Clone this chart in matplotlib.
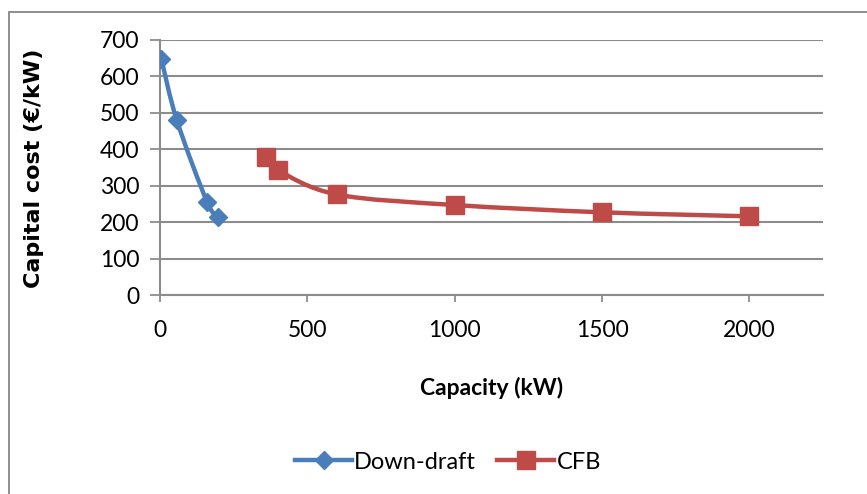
import numpy as np
import matplotlib
matplotlib.use("Agg")
import matplotlib.pyplot as plt
from matplotlib.path import Path
from matplotlib.patches import PathPatch, Rectangle
from matplotlib.lines import Line2D

plt.rcParams['font.family'] = ['Lato', 'DejaVu Sans']

# Data
dd_x = [5, 57, 160, 198]
dd_y = [647, 480, 255, 215]
cfb_x = [360, 400, 600, 1000, 1500, 2000]
cfb_y = [380, 343, 276, 247, 227, 216]
x_ticks = [0, 500, 1000, 1500, 2000]
y_ticks = [0, 100, 200, 300, 400, 500, 600, 700]
series_names = ["Down-draft", "CFB"]

BLUE = "#4A7EBB"
RED = "#BE4B48"
GRID = "#8C8C8C"

L, R, T, B = 160, 823, 40, 295
W, H = 867, 494


def smooth_path(xs, ys, t=1/6):
    pts = np.column_stack([xs, ys]).astype(float)
    n = len(pts)
    verts = [pts[0]]
    codes = [Path.MOVETO]
    for i in range(n - 1):
        p0 = pts[i - 1] if i > 0 else pts[i]
        p1 = pts[i]
        p2 = pts[i + 1]
        p3 = pts[i + 2] if i + 2 < n else pts[i + 1]
        c1 = p1 + (p2 - p0) * t
        c2 = p2 - (p3 - p1) * t
        verts += [c1, c2, p2]
        codes += [Path.CURVE4] * 3
    return Path(verts, codes)


fig = plt.figure(figsize=(W / 100, H / 100), dpi=100)
fig.patches.append(Rectangle((9 / W, -0.1), 1.2, 1 - 12 / H + 0.1, transform=fig.transFigure,
                             fill=False, edgecolor="#868686", lw=1.3))
ax = fig.add_axes([L / W, 1 - B / H, (R - L) / W, (B - T) / H])
ax.set_xlim(0, 2250)
ax.set_ylim(0, 700)

for c, xs, ys in [(BLUE, dd_x, dd_y), (RED, cfb_x, cfb_y)]:
    path = smooth_path(xs, ys)
    ax.add_patch(PathPatch(path, facecolor="none", edgecolor=c, lw=3.2, capstyle="round",
                           joinstyle="round", zorder=3))

ax.plot(dd_x, dd_y, linestyle="none", marker="D", markersize=9.5, color=BLUE, zorder=4)
ax.plot(cfb_x, cfb_y, linestyle="none", marker="s", markersize=13, color=RED, zorder=4)

ax.set_xticks(x_ticks)
ax.set_yticks(y_ticks)
ax.yaxis.grid(True, color=GRID, lw=1.5)
ax.set_axisbelow(True)
for s in ["top", "right"]:
    ax.spines[s].set_visible(False)
for s in ["left", "bottom"]:
    ax.spines[s].set_color(GRID)
    ax.spines[s].set_linewidth(1.5)
ax.tick_params(axis="x", length=5, width=1.3, color=GRID, labelsize=16.5, pad=13)
ax.tick_params(axis="y", length=7, width=1.3, color=GRID, labelsize=16.5, pad=8)

ax.set_xlabel("Capacity (kW)", fontsize=16.5, fontweight="bold", va="center")
ax.xaxis.set_label_coords((492 - L) / (R - L), (B - 388) / (B - T))
ax.set_ylabel("Capital cost (€/kW)", fontsize=16, fontweight="bold", va="center",
              family=["DejaVu Sans"])
ax.yaxis.set_label_coords((34 - L) / (R - L), (B - 168) / (B - T))

handles = [
    Line2D([], [], color=BLUE, lw=3.2, marker="D", markersize=9.5),
    Line2D([], [], color=RED, lw=3.2, marker="s", markersize=13),
]
fig.legend(handles, series_names, loc="center", bbox_to_anchor=(448 / W, 1 - 462 / H),
           ncol=2, frameon=False, fontsize=17, handlelength=2.4, handletextpad=0.1,
           columnspacing=0.9, borderaxespad=0)

fig.savefig("out.png", dpi=100)
